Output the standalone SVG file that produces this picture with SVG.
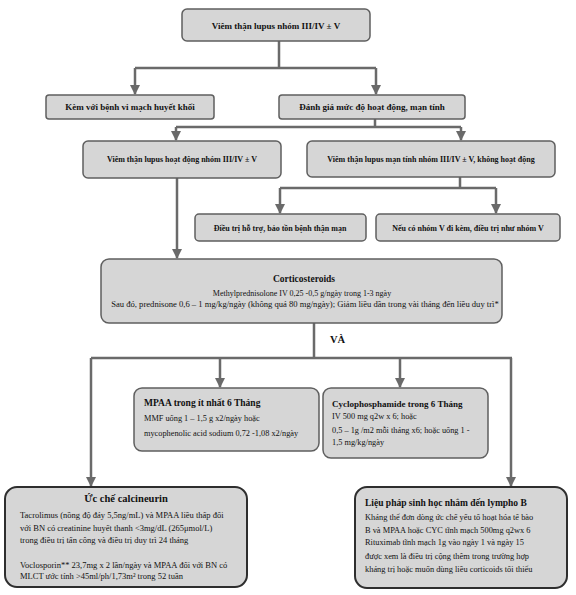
<svg xmlns="http://www.w3.org/2000/svg" width="576" height="595" viewBox="0 0 576 595">
<defs>
<marker id="ah" markerUnits="userSpaceOnUse" markerWidth="10" markerHeight="10" viewBox="0 0 10 10" refX="9" refY="5" orient="auto">
<path d="M0,0 L10,5 L0,10 z" fill="#6a6a6a"/>
</marker>
<style>
.bx{fill:#d6d6d6;stroke:#5f5f5f;stroke-width:1.5}
.bb{fill:#d6d6d6;stroke:#2e2e2e;stroke-width:2}
.t{font-family:"Liberation Serif","Times New Roman",serif;fill:#111111}
.h{font-weight:bold}
.c{text-anchor:middle}
.ln{fill:none;stroke:#6a6a6a;stroke-width:2.5}
.ar{fill:none;stroke:#6a6a6a;stroke-width:2.5;marker-end:url(#ah)}
</style>
</defs>
<rect width="576" height="595" fill="#ffffff"/>

<g id="connectors">
<path class="ln" d="M279,41 V68 M135,68 H376"/>
<path class="ar" d="M135,68 V94"/>
<path class="ar" d="M376,68 V94"/>
<path class="ln" d="M375,119 V127 M176,127 H461"/>
<path class="ar" d="M176,127 V140"/>
<path class="ar" d="M461,127 V140"/>
<path class="ln" d="M460,177 V188 M280,188 H496"/>
<path class="ar" d="M280,188 V213"/>
<path class="ar" d="M496,188 V213"/>
<path class="ar" d="M177,178 V258"/>
<path class="ln" d="M314,323 V358 M91,358 H512"/>
<path class="ar" d="M220,358 V387"/>
<path class="ar" d="M400,358 V387"/>
<path class="ar" d="M91,358 V486"/>
<path class="ar" d="M511,358 V486"/>
<text class="t h" x="330" y="343" font-size="10.5">VÀ</text>
</g>

<g id="n1">
<rect class="bx" x="182" y="9" width="188" height="32" rx="5"/>
<text class="t h c" x="276" y="29" font-size="9">Viêm thận lupus nhóm III/IV ± V</text>
</g>

<g id="n2">
<rect class="bx" x="46" y="95" width="168" height="24" rx="3"/>
<text class="t h c" x="130" y="110" font-size="9">Kèm với bệnh vi mạch huyết khối</text>
</g>

<g id="n3">
<rect class="bx" x="279" y="95" width="186" height="24" rx="3"/>
<text class="t h c" x="372" y="110" font-size="9">Đánh giá mức độ hoạt động, mạn tính</text>
</g>

<g id="n4">
<rect class="bx" x="83" y="141" width="198" height="37" rx="5"/>
<text class="t h c" x="182" y="162" font-size="8">Viêm thận lupus hoạt động nhóm III/IV ± V</text>
</g>

<g id="n5">
<rect class="bx" x="307" y="141" width="248" height="36" rx="5"/>
<text class="t h c" x="431" y="162" font-size="8">Viêm thận lupus mạn tính nhóm III/IV ± V, không hoạt động</text>
</g>

<g id="n6">
<rect class="bx" x="195" y="214" width="171" height="27" rx="4"/>
<text class="t h c" x="280" y="231" font-size="8">Điều trị hỗ trợ, bảo tồn bệnh thận mạn</text>
</g>

<g id="n7">
<rect class="bx" x="376" y="214" width="184" height="27" rx="4"/>
<text class="t h c" x="468" y="231" font-size="8">Nếu có nhóm V đi kèm, điều trị như nhóm V</text>
</g>

<g id="n8">
<rect class="bx" x="101" y="259" width="401" height="64" rx="8"/>
<text class="t h c" x="304" y="282" font-size="9.5">Corticosteroids</text>
<text class="t c" x="302" y="296" font-size="8">Methylprednisolone IV 0,25 -0,5 g/ngày trong 1-3 ngày</text>
<text class="t c" x="305" y="307" font-size="8.6">Sau đó, prednisone 0,6 – 1 mg/kg/ngày (không quá 80 mg/ngày); Giảm liều dần trong vài tháng đến liều duy trì*</text>
</g>

<g id="n9">
<rect class="bx" x="134" y="388" width="185" height="63" rx="8"/>
<text class="t h" x="144" y="406" font-size="9.5">MPAA trong ít nhất 6 Tháng</text>
<text class="t" x="144" y="421" font-size="8.3">MMF uống 1 – 1,5 g x2/ngày hoặc</text>
<text class="t" x="144" y="436" font-size="8.3">mycophenolic acid sodium 0,72 -1,08 x2/ngày</text>
</g>

<g id="n10">
<rect class="bx" x="323" y="388" width="165" height="70" rx="8"/>
<text class="t h" x="332" y="407" font-size="9">Cyclophosphamide trong 6 Tháng</text>
<text class="t" x="332" y="419" font-size="8.3">IV 500 mg q2w x 6; hoặc</text>
<text class="t" x="332" y="433" font-size="8.3">0,5 – 1g /m2 mỗi tháng x6; hoặc uống 1 -</text>
<text class="t" x="332" y="445" font-size="8.3">1,5 mg/kg/ngày</text>
</g>

<g id="n11">
<rect class="bb" x="5" y="487" width="242" height="100" rx="12"/>
<text class="t h c" x="126" y="502" font-size="10.5">Ức chế calcineurin</text>
<text class="t" x="20" y="518" font-size="8.5">Tacrolimus (nồng độ đáy 5,5ng/mL) và MPAA liều thấp đối</text>
<text class="t" x="20" y="531" font-size="8.5">với BN có creatinine huyết thanh &lt;3mg/dL (265μmol/L)</text>
<text class="t" x="20" y="543" font-size="8.5">trong điều trị tấn công và điều trị duy trì 24 tháng</text>
<text class="t" x="20" y="568" font-size="8.5">Voclosporin** 23,7mg x 2 lần/ngày và MPAA đối với BN có</text>
<text class="t" x="20" y="579" font-size="8.5">MLCT ước tính &gt;45ml/ph/1,73m² trong 52 tuần</text>
</g>

<g id="n12">
<rect class="bb" x="355" y="487" width="212" height="101" rx="12"/>
<text class="t h" x="365" y="506" font-size="9.5">Liệu pháp sinh học nhắm đến lympho B</text>
<text class="t" x="365" y="520" font-size="8.4">Kháng thể đơn dòng ức chế yếu tố hoạt hóa tế bào</text>
<text class="t" x="365" y="533" font-size="8.4">B và MPAA hoặc CYC tĩnh mạch 500mg q2wx 6</text>
<text class="t" x="365" y="545" font-size="8.4">Rituximab tĩnh mạch 1g vào ngày 1 và ngày 15</text>
<text class="t" x="365" y="559" font-size="8.4">được xem là điều trị cộng thêm trong trường hợp</text>
<text class="t" x="365" y="572" font-size="8.4">kháng trị hoặc muốn dùng liều corticoids tối thiểu</text>
</g>
</svg>
